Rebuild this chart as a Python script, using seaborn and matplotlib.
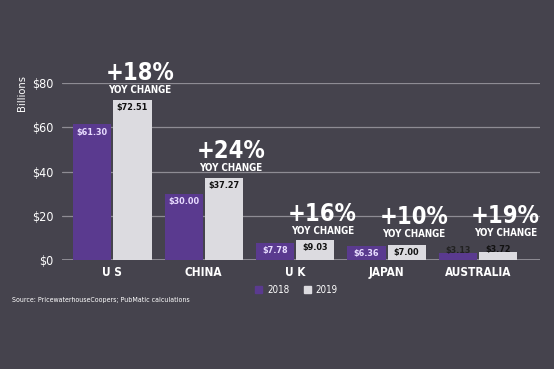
import pandas as pd
import seaborn as sns
import matplotlib.pyplot as plt
from matplotlib.patches import Patch

countries = ["US", "CHINA", "UK", "JAPAN", "AUSTRALIA"]
spend_2018 = [61.30, 30.00, 7.78, 6.36, 3.13]
spend_2019 = [72.51, 37.27, 9.03, 7.00, 3.72]
yoy = ["+18%", "+24%", "+16%", "+10%", "+19%"]
yticks = [0, 20, 40, 60, 80]

bg = "#45434d"
purple = "#5a3a8f"
light = "#dcdbe0"

sns.set_theme(style="dark")
plt.rcParams["font.family"] = ["DejaVu Sans"]
plt.rcParams["font.stretch"] = "condensed"

df = pd.DataFrame({
    "country": countries * 2,
    "value": spend_2018 + spend_2019,
    "year": ["2018"] * 5 + ["2019"] * 5,
})

fig = plt.figure(figsize=(5.54, 3.69), dpi=100, facecolor=bg)
ax = fig.add_axes([0.112, 0.295, 0.863, 0.48])
ax.set_facecolor(bg)

sns.barplot(data=df, x="country", y="value", hue="year", order=countries,
            palette={"2018": purple, "2019": light}, width=0.88, gap=0.05,
            legend=False, ax=ax, saturation=1, linewidth=0, edgecolor="none")

ax.set_ylim(0, 80)
ax.set_xlim(-0.55, 4.68)
ax.set_yticks(yticks)
ax.set_yticklabels([f"${t}" for t in yticks], color="white", fontsize=9)
ax.tick_params(axis="y", length=0, pad=6)
ax.tick_params(axis="x", length=0, pad=4)
ax.set_xticks(range(len(countries)))
ax.set_xticklabels([" ".join(c) if len(c) <= 2 else c for c in countries],
                   color="white", fontsize=8.5, fontweight="bold")
ax.set_xlabel("")
ax.set_ylabel("")
for t in yticks:
    ax.axhline(t, color="#8e8c94", lw=1.4 if t == 0 else 0.9, zorder=0)
for s in ax.spines.values():
    s.set_visible(False)
ax.grid(False)

# value labels and YoY annotations
off = 0.22
ann_base = [72.51, 37.27, 9.03, 7.5, 8.0]
for i in range(len(countries)):
    ax.text(i - off, spend_2018[i] - 1.5 if spend_2018[i] > 5 else spend_2018[i] + 3.2,
            f"${spend_2018[i]:.2f}", ha="center", va="top",
            fontsize=6.5, color="#e8dcff" if spend_2018[i] > 5 else "#222222", fontweight="bold")
    ax.text(i + off, spend_2019[i] - 1.5 if spend_2019[i] > 5 else spend_2019[i] + 3.2,
            f"${spend_2019[i]:.2f}", ha="center", va="top",
            fontsize=6.5, color="#111111", fontweight="bold")
    ytop = ann_base[i]
    ax.text(i + 0.3, ytop + 2.0, "YOY CHANGE", ha="center", va="bottom",
            fontsize=7, color="white", fontweight="bold", clip_on=False)
    ax.text(i + 0.3, ytop + 6.5, yoy[i], ha="center", va="bottom",
            fontsize=17, color="white", fontweight="bold", clip_on=False)

fig.text(0.04, 0.797, "Billions", rotation=90, color="white", fontsize=8,
         ha="center", va="top")
fig.text(0.022, 0.187, "Source: PricewaterhouseCoopers; PubMatic calculations",
         color="white", fontsize=5, va="center")

handles = [Patch(color=purple), Patch(color=light)]
fig.legend(handles, ["2018", "2019"], loc="center", bbox_to_anchor=(0.535, 0.215),
           ncol=2, frameon=False, fontsize=7, labelcolor="white",
           handlelength=0.7, handleheight=0.7, columnspacing=1.5, handletextpad=0.5)

fig.savefig("out.png", dpi=100, facecolor=bg)
